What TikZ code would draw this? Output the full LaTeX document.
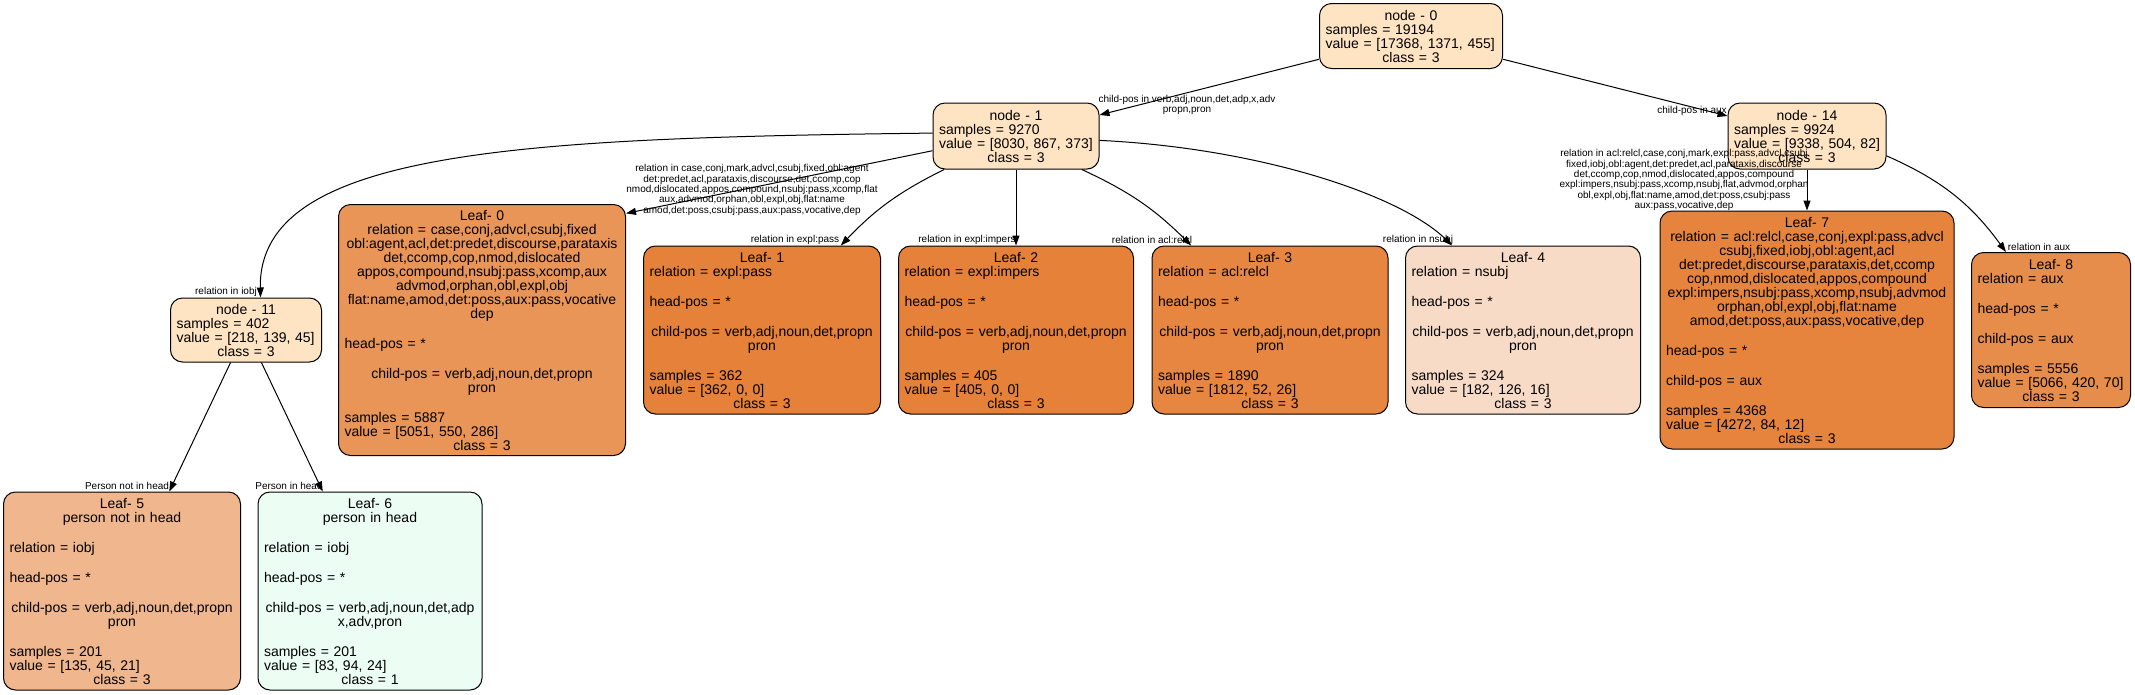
\documentclass[tikz,border=0pt]{standalone}
\usepackage{fontspec}
\setmainfont{Liberation Sans}
\usepackage{tikz}
\usetikzlibrary{arrows.meta}

\definecolor{bisque}{RGB}{255,228,196}
\definecolor{leaf0}{RGB}{233,149,88}
\definecolor{leaf1}{RGB}{229,129,57}
\definecolor{leaf3}{RGB}{230,134,65}
\definecolor{leaf4}{RGB}{248,219,199}
\definecolor{leaf5}{RGB}{240,182,141}
\definecolor{leaf6}{RGB}{236,253,243}
\definecolor{leaf7}{RGB}{230,132,61}
\definecolor{leaf8}{RGB}{231,141,75}

% left justified line inside a node
\newcommand{\lrow}[1]{\makebox[\linewidth][l]{#1}}

\begin{document}
\begin{tikzpicture}[
    x=1pt, y=-1pt,
    split/.style={
        draw, line width=1pt, rounded corners=12pt, fill=bisque,
        font=\fontsize{14}{14}\selectfont, align=center,
        inner xsep=6pt, inner ysep=2pt
    },
    leaf/.style={split, fill=#1},
    branch/.style={->, line width=1pt, >={Triangle[length=10pt, width=7pt]}},
    cond/.style={font=\fontsize{10}{10.3}\selectfont, align=center, inner sep=0pt},
]
\useasboundingbox (0,0) rectangle (2135,694);

% Inner nodes
\node[split, text width=171pt, minimum height=65pt] (n0) at (1411,36)
    {node - 0\\ \lrow{samples = 19194}\\ \lrow{value = [17368, 1371, 455]}\\ class = 3};
\node[split, text width=154pt, minimum height=66pt] (n1) at (1016,136)
    {node - 1\\ \lrow{samples = 9270}\\ \lrow{value = [8030, 867, 373]}\\ class = 3};
\node[split, text width=146pt, minimum height=66pt] (n14) at (1807,136)
    {node - 14\\ \lrow{samples = 9924}\\ \lrow{value = [9338, 504, 82]}\\ class = 3};
\node[split, text width=139pt, minimum height=64pt] (n11) at (246,330)
    {node - 11\\ \lrow{samples = 402}\\ \lrow{value = [218, 139, 45]}\\ class = 3};

% Leaves
\node[leaf=leaf0, text width=275pt, minimum height=251pt] (L0) at (482,330)
    {Leaf- 0\\ relation = case,conj,advcl,csubj,fixed\\
     obl:agent,acl,det:predet,discourse,parataxis\\
     det,ccomp,cop,nmod,dislocated\\
     appos,compound,nsubj:pass,xcomp,aux\\
     advmod,orphan,obl,expl,obj\\
     flat:name,amod,det:poss,aux:pass,vocative\\
     dep\\[16pt]
     \lrow{head-pos = *}\\[16pt]
     child-pos = verb,adj,noun,det,propn\\ pron\\[16pt]
     \lrow{samples = 5887}\\ \lrow{value = [5051, 550, 286]}\\ class = 3};
\node[leaf=leaf1, text width=225pt, minimum height=168pt] (L1) at (762,330)
    {Leaf- 1\\ \lrow{relation = expl:pass}\\[16pt]
     \lrow{head-pos = *}\\[16pt]
     child-pos = verb,adj,noun,det,propn\\ pron\\[16pt]
     \lrow{samples = 362}\\ \lrow{value = [362, 0, 0]}\\ class = 3};
\node[leaf=leaf1, text width=223pt, minimum height=168pt] (L2) at (1016,330)
    {Leaf- 2\\ \lrow{relation = expl:impers}\\[16pt]
     \lrow{head-pos = *}\\[16pt]
     child-pos = verb,adj,noun,det,propn\\ pron\\[16pt]
     \lrow{samples = 405}\\ \lrow{value = [405, 0, 0]}\\ class = 3};
\node[leaf=leaf3, text width=224pt, minimum height=168pt] (L3) at (1270,330)
    {Leaf- 3\\ \lrow{relation = acl:relcl}\\[16pt]
     \lrow{head-pos = *}\\[16pt]
     child-pos = verb,adj,noun,det,propn\\ pron\\[16pt]
     \lrow{samples = 1890}\\ \lrow{value = [1812, 52, 26]}\\ class = 3};
\node[leaf=leaf4, text width=223pt, minimum height=168pt] (L4) at (1523,330)
    {Leaf- 4\\ \lrow{relation = nsubj}\\[16pt]
     \lrow{head-pos = *}\\[16pt]
     child-pos = verb,adj,noun,det,propn\\ pron\\[16pt]
     \lrow{samples = 324}\\ \lrow{value = [182, 126, 16]}\\ class = 3};
\node[leaf=leaf5, text width=225pt, minimum height=198pt] (L5) at (122,591)
    {Leaf- 5\\ person not in head\\[16pt]
     \lrow{relation = iobj}\\[16pt]
     \lrow{head-pos = *}\\[16pt]
     child-pos = verb,adj,noun,det,propn\\ pron\\[16pt]
     \lrow{samples = 201}\\ \lrow{value = [135, 45, 21]}\\ class = 3};
\node[leaf=leaf6, text width=212pt, minimum height=198pt] (L6) at (370,591)
    {Leaf- 6\\ person in head\\[16pt]
     \lrow{relation = iobj}\\[16pt]
     \lrow{head-pos = *}\\[16pt]
     child-pos = verb,adj,noun,det,adp\\ x,adv,pron\\[16pt]
     \lrow{samples = 201}\\ \lrow{value = [83, 94, 24]}\\ class = 1};
\node[leaf=leaf7, text width=282pt, minimum height=238pt] (L7) at (1807,330)
    {Leaf- 7\\ relation = acl:relcl,case,conj,expl:pass,advcl\\
     csubj,fixed,iobj,obl:agent,acl\\
     det:predet,discourse,parataxis,det,ccomp\\
     cop,nmod,dislocated,appos,compound\\
     expl:impers,nsubj:pass,xcomp,nsubj,advmod\\
     orphan,obl,expl,obj,flat:name\\
     amod,det:poss,aux:pass,vocative,dep\\[16pt]
     \lrow{head-pos = *}\\[16pt]
     \lrow{child-pos = aux}\\[16pt]
     \lrow{samples = 4368}\\ \lrow{value = [4272, 84, 12]}\\ class = 3};
\node[leaf=leaf8, text width=147pt, minimum height=155pt] (L8) at (2051,330)
    {Leaf- 8\\ \lrow{relation = aux}\\[16pt]
     \lrow{head-pos = *}\\[16pt]
     \lrow{child-pos = aux}\\[16pt]
     \lrow{samples = 5556}\\ \lrow{value = [5066, 420, 70]}\\ class = 3};

% Branches
\draw[branch] (n0) -- (n1);
\draw[branch] (n0) -- (n14);
\draw[branch] (n1.178) .. controls (520,138) and (258,150) .. (n11.66);
\draw[branch] (n1.190) -- (L0.39);
\draw[branch] (n1.205) to[bend right=10] (L1.47);
\draw[branch] (n1) -- (L2);
\draw[branch] (n1.-27) to[bend left=10] (L3.133);
\draw[branch] (n1.-3) .. controls (1260,148) and (1400,195) .. (L4.130);
\draw[branch] (n14) -- (L7);
\draw[branch] (n14.-14) to[bend left=15] (L8.120);
\draw[branch] (n11) -- (L5);
\draw[branch] (n11) -- (L6);

% Branch labels
\node[cond] (c1) at (1187,105) {child-pos in verb,adj,noun,det,adp,x,adv\\ propn,pron};
\node[cond] (c14) at (1692,111) {child-pos in aux};
\node[cond] (c0) at (752,190)
    {relation in case,conj,mark,advcl,csubj,fixed,obl:agent\\
     det:predet,acl,parataxis,discourse,det,ccomp,cop\\
     nmod,dislocated,appos,compound,nsubj:pass,xcomp,flat\\
     aux,advmod,orphan,obl,expl,obj,flat:name\\
     amod,det:poss,csubj:pass,aux:pass,vocative,dep};
\node[cond] (c11) at (226,292) {relation in iobj};
\node[cond] (cl1) at (795,240) {relation in expl:pass};
\node[cond] (cl2) at (967,240) {relation in expl:impers};
\node[cond] (cl3) at (1152,240) {relation in acl:relcl};
\node[cond] (cl4) at (1418,240) {relation in nsubj};
\node[cond] (cl7) at (1684,180)
    {relation in acl:relcl,case,conj,mark,expl:pass,advcl,csubj\\
     fixed,iobj,obl:agent,det:predet,acl,parataxis,discourse\\
     det,ccomp,cop,nmod,dislocated,appos,compound\\
     expl:impers,nsubj:pass,xcomp,nsubj,flat,advmod,orphan\\
     obl,expl,obj,flat:name,amod,det:poss,csubj:pass\\
     aux:pass,vocative,dep};
\node[cond] (cl8) at (2039,247) {relation in aux};
\node[cond] (cl5) at (127,486) {Person not in head};
\node[cond] (cl6) at (289,486) {Person in head};

\end{tikzpicture}
\end{document}
